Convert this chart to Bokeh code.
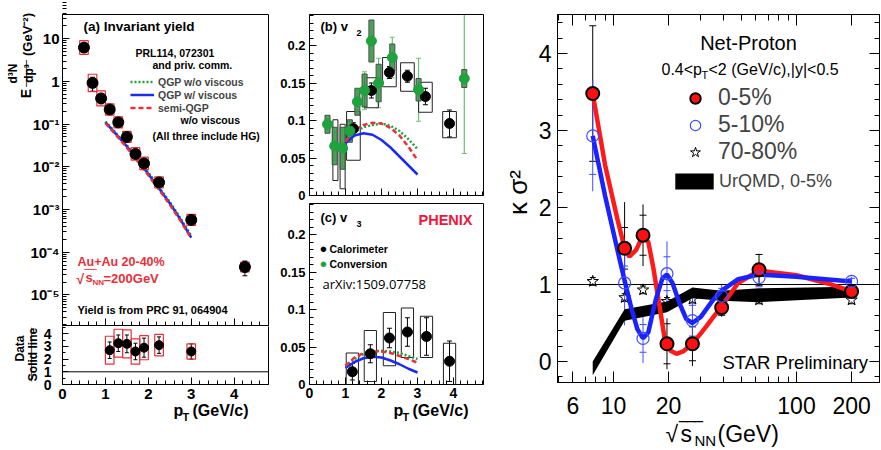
import math
from bokeh.plotting import figure
from bokeh.models import (ColumnDataSource, Range1d, FixedTicker, CustomJSTickFormatter,
                          Label, Whisker, TeeHead, Legend, LegendItem, LinearAxis, LogAxis)
from bokeh.layouts import row, column
from bokeh.embed import file_html
from bokeh.resources import INLINE

FONT = "Liberation Sans"
GREEN = "#1fa33f"
RED = "#e8303a"
BLUE = "#1a2cf0"

# ---------------- panel (a): invariant yield ----------------
a_pt = [0.5, 0.7, 0.9, 1.1, 1.3, 1.5, 1.7, 1.9, 2.25, 3.0, 4.25]
a_yield = [6.2, 0.92, 0.40, 0.22, 0.11, 0.050, 0.020, 0.012, 0.0043, 5.7e-4, 4.5e-5]
a_stat = [1.1, 0.33, 0.10, 0.045, 0.02, 0.008, 0.004, 0.003, 0.0008, 1.0e-4, 1.7e-5]
a_sys = [1.45, 1.6, 1.5, 1.35, 1.35, 1.35, 1.4, 1.4, 1.35, 1.35, 1.3]

r_pt = [1.1, 1.3, 1.5, 1.7, 1.9, 2.25, 3.0]
r_val = [2.7, 3.25, 3.2, 2.6, 2.9, 3.1, 2.6]
r_stat = [0.65, 0.65, 0.7, 0.65, 0.75, 0.65, 0.6]
r_sys = [1.1, 1.1, 1.1, 1.0, 0.95, 0.85, 0.6]

model_pt = [1.0, 1.25, 1.5, 1.75, 2.0, 2.25, 2.5, 2.75, 3.0]
yield_qgp_novisc = [0.115, 0.061, 0.032, 0.0155, 0.0073, 0.0033, 0.0015, 0.00062, 0.00024]
yield_qgp_visc = [0.110, 0.058, 0.030, 0.0145, 0.0068, 0.0031, 0.0014, 0.00058, 0.00022]
yield_semi = [0.105, 0.055, 0.028, 0.0135, 0.0063, 0.0029, 0.0013, 0.00054, 0.00021]

# ---------------- panel (b): v2 ----------------
cal_pt = [1.22, 1.72, 2.22, 2.72, 3.22, 3.89]
cal_v2 = [0.089, 0.140, 0.164, 0.159, 0.132, 0.096]
cal_v2_stat = [0.008, 0.010, 0.008, 0.008, 0.011, 0.018]
cal_v2_syslo = [0.047, 0.117, 0.145, 0.139, 0.111, 0.077]
cal_v2_syshi = [0.112, 0.157, 0.184, 0.177, 0.151, 0.112]

conv_pt = [0.5, 0.7, 0.92, 1.12, 1.33, 1.53, 1.72, 1.92, 2.3, 3.03, 4.3]
conv_v2 = [0.095, 0.066, 0.063, 0.086, 0.125, 0.140, 0.206, 0.150, 0.184, 0.141, 0.156]
conv_v2_stat = [0.008, 0.02, 0.025, 0.012, 0.015, 0.025, 0.027, 0.033, 0.027, 0.042, 0.10]
conv_v2_sys = [0.012, 0.025, 0.028, 0.015, 0.018, 0.022, 0.028, 0.025, 0.018, 0.015, 0.012]
conv_box_pt = [0.72, 0.92]
conv_box_lo = [0.020, 0.009]
conv_box_hi = [0.101, 0.095]

v2_qgp_novisc = [0.072, 0.085, 0.091, 0.094, 0.096, 0.093, 0.086, 0.075, 0.062]
v2_qgp_visc = [0.070, 0.080, 0.083, 0.081, 0.074, 0.064, 0.052, 0.040, 0.028]
v2_semi = [0.072, 0.087, 0.094, 0.097, 0.096, 0.090, 0.080, 0.065, 0.047]

# ---------------- panel (c): v3 ----------------
cal3_pt = [1.19, 1.69, 2.22, 2.72, 3.25, 3.89]
cal_v3 = [0.017, 0.041, 0.062, 0.070, 0.064, 0.031]
cal_v3_stat = [0.011, 0.012, 0.013, 0.019, 0.025, 0.027]
cal_v3_syslo = [0.0, 0.004, 0.025, 0.036, 0.036, 0.0]
cal_v3_syshi = [0.042, 0.072, 0.096, 0.102, 0.091, 0.055]

v3_qgp_novisc = [0.024, 0.034, 0.041, 0.044, 0.045, 0.044, 0.042, 0.038, 0.034]
v3_qgp_visc = [0.022, 0.030, 0.035, 0.037, 0.036, 0.032, 0.027, 0.021, 0.016]
v3_semi = [0.025, 0.036, 0.042, 0.044, 0.044, 0.042, 0.038, 0.034, 0.029]

# ---------------- right panel: net-proton kappa sigma^2 ----------------
energy = [7.7, 11.5, 14.5, 19.6, 27.0, 39.0, 62.4, 200.0]
ks_0_5 = [3.48, 1.47, 1.64, 0.23, 0.23, 0.70, 1.19, 0.91]
ks_0_5_stat = [0.88, 0.60, 0.40, 0.33, 0.29, 0.12, 0.21, 0.05]
ks_0_5_sys = [0.88, 0.27, 0.26, 0.26, 0.22, 0.10, 0.20, 0.04]
ks_5_10 = [2.93, 1.02, 0.30, 1.14, 0.53, 0.85, 1.09, 1.04]
ks_5_10_stat = [0.72, 0.55, 0.32, 0.42, 0.36, 0.15, 0.10, 0.06]
ks_5_10_sys = [0.50, 0.22, 0.18, 0.22, 0.20, 0.10, 0.12, 0.04]
ks_70_80 = [1.04, 0.83, 0.93, 0.78, 0.81, 0.80, 0.80, 0.80]

urqmd_e = [7.7, 11.5, 19.6, 27.0, 39.0, 62.4, 200.0]
urqmd_lo = [-0.18, 0.53, 0.64, 0.82, 0.79, 0.77, 0.83]
urqmd_hi = [0.0, 0.68, 0.78, 0.96, 0.92, 0.95, 0.97]

fit_0_5_e = [7.7, 9.0, 10.5, 11.5, 12.2, 13.3, 14.5, 15.5, 16.5, 17.9, 19.0, 20.5, 22.1, 24.0,
             27.0, 32.0, 39.0, 48.0, 62.4, 100.0, 150.0, 200.0]
fit_0_5_k = [3.48, 2.55, 1.85, 1.47, 1.36, 1.45, 1.64, 1.55, 1.22, 0.70, 0.31, 0.14, 0.10, 0.13,
             0.23, 0.45, 0.72, 1.02, 1.18, 1.12, 1.01, 0.91]
fit_5_10_e = [7.7, 9.0, 10.5, 11.5, 12.5, 13.5, 14.5, 15.5, 17.0, 18.5, 19.6, 21.0, 23.0, 25.0,
              27.0, 30.0, 35.0, 39.0, 48.0, 62.4, 100.0, 200.0]
fit_5_10_k = [2.93, 2.15, 1.45, 1.05, 0.70, 0.42, 0.30, 0.38, 0.80, 1.08, 1.13, 1.02, 0.75, 0.55,
              0.50, 0.58, 0.80, 0.92, 1.07, 1.13, 1.10, 1.04]

LOGFMT = """
const e = Math.round(Math.log10(tick));
if (e === 0) return "1";
if (e === 1) return "10";
const m = {"-":"\\u207b","0":"\\u2070","1":"\\u00b9","2":"\\u00b2","3":"\\u00b3","4":"\\u2074","5":"\\u2075","6":"\\u2076"};
return "10" + String(e).split("").map(c => m[c]).join("");
"""
VFMT = "return (tick == 0) ? '0' : String(parseFloat(tick.toFixed(2)));"


# ---------- pixel <-> data mappings of each panel (page pixels) ----------
def ma(px, py):
    return (px - 62) / 206 * 4.8, 10 ** (1.567 - (py - 14) / 311 * 7.284)


def mr(px, py):
    return (px - 62) / 206 * 4.8, (384 - py) / 12.7


def mb(px, py):
    return (px - 309) / 36, (195 - py) / 750


def mc(px, py):
    return (px - 309) / 36, (384 - py) / 750


def mk(px, py):
    return 10 ** (1 + (px - 613) / 183), (361 - py) / 77


def make_fig(m, x0, y0, x1, y1, x_range=None, **kw):
    xa, ya = m(x0, y1)
    xb, yb = m(x1, y0)
    p = figure(width=x1 - x0, height=y1 - y0,
               x_range=x_range if x_range is not None else Range1d(xa, xb),
               y_range=Range1d(ya, yb),
               output_backend="svg", toolbar_location=None, title=None,
               min_border_left=0, min_border_right=0, min_border_top=0, min_border_bottom=0, **kw)
    p.xgrid.visible = False
    p.ygrid.visible = False
    p.outline_line_color = None
    p.background_fill_color = "white"
    p.border_fill_color = "white"
    return p


def style_axis(ax, size, bold=True, standoff=3, major=7, minor=4):
    ax.major_tick_in = major
    ax.major_tick_out = 0
    ax.minor_tick_in = minor
    ax.minor_tick_out = 0
    ax.axis_line_color = "black"
    ax.major_tick_line_color = "black"
    ax.minor_tick_line_color = "black"
    ax.major_label_text_font = FONT
    ax.major_label_text_font_style = "bold" if bold else "normal"
    ax.major_label_text_font_size = size
    ax.major_label_standoff = standoff
    ax.major_label_text_color = "black"


def fix_axis(ax, loc, bounds, ticks, minor, size="0px", bold=True, standoff=3, major=7,
             minor_len=4, fmt=None, show=True):
    ax.fixed_location = loc
    ax.bounds = bounds
    ax.ticker = FixedTicker(ticks=ticks, minor_ticks=minor)
    style_axis(ax, size, bold, standoff, major, minor_len)
    if fmt is not None:
        ax.formatter = fmt
    if not show:
        ax.formatter = CustomJSTickFormatter(code="return ''")
        ax.major_label_text_font_size = "0px"
        ax.major_label_standoff = 0


def box(p, m, px0, px1, py0, py1):
    xa, ya = m(px0, py1)
    xb, yb = m(px1, py0)
    p.quad(left=[xa], right=[xb], bottom=[ya], top=[yb], fill_color=None,
           line_color="black", line_width=1)


def txt(p, m, px, py, text, size, color="black", bold=True, align="left", baseline="middle",
        angle=0.0, font=FONT):
    x, y = m(px, py)
    p.add_layout(Label(x=x, y=y, text=text, text_font=font, text_font_size=size,
                       text_font_style="bold" if bold else "normal", text_color=color,
                       text_align=align, text_baseline=baseline, angle=angle))


def tee(color, size=5):
    return TeeHead(size=size, line_color=color, line_width=1)


minor_pt = [i * 0.2 for i in range(25)]
ROT = math.pi / 2
SPLIT = 272   # page x where panel (a) column ends and panels (b)/(c) begin

# ====================== panel (a) top ======================
pa = make_fig(ma, 0, 0, SPLIT, 326, y_axis_type="log")
A_YBOT, A_YTOP = ma(0, 325)[1], ma(0, 14)[1]
box(pa, ma, 62, 268, 14, 325)
fix_axis(pa.yaxis[0], 0, (A_YBOT, A_YTOP), [1e-5, 1e-4, 1e-3, 1e-2, 1e-1, 1, 10],
         [k * 10.0 ** e for e in range(-6, 2) for k in range(2, 10)], size="15px", standoff=3,
         fmt=CustomJSTickFormatter(code=LOGFMT))
fix_axis(pa.xaxis[0], A_YBOT, (0, 4.8), [0, 1, 2, 3, 4], minor_pt, show=False)

src_a = ColumnDataSource(dict(
    pt=a_pt, y=a_yield,
    lo=[y - e for y, e in zip(a_yield, a_stat)], hi=[y + e for y, e in zip(a_yield, a_stat)],
    sl=[y / s for y, s in zip(a_yield, a_sys)], sh=[y * s for y, s in zip(a_yield, a_sys)],
    l=[p - 0.1 for p in a_pt], r=[p + 0.1 for p in a_pt]))

ga = pa.line(model_pt, yield_qgp_novisc, line_color=GREEN, line_width=2.5, line_dash="2 2")
ba = pa.line(model_pt, yield_qgp_visc, line_color=BLUE, line_width=2.5)
ra = pa.line(model_pt, yield_semi, line_color=RED, line_width=2.5, line_dash="5 3")
pa.quad(left="l", right="r", bottom="sl", top="sh", source=src_a, fill_color=None,
        line_color=RED, line_width=1.2)
pa.add_layout(Whisker(base="pt", lower="lo", upper="hi", source=src_a, line_color="black",
                      line_width=1, upper_head=tee("black"), lower_head=tee("black")))
pa.scatter("pt", "y", source=src_a, size=11, color="black")

leg_a = Legend(items=[LegendItem(label="QGP w/o viscous", renderers=[ga]),
                      LegendItem(label="QGP w/ viscous", renderers=[ba]),
                      LegendItem(label="semi-QGP", renderers=[ra])],
               location=(130, 212), glyph_width=24, glyph_height=13, label_height=13,
               label_standoff=4, spacing=0, padding=0, margin=0, border_line_color=None,
               background_fill_alpha=0, label_text_font=FONT, label_text_font_style="bold",
               label_text_font_size="10.5px")
pa.add_layout(leg_a)

txt(pa, ma, 83, 26, "(a) Invariant yield", "13.5px")
txt(pa, ma, 135, 52, "PRL114, 072301", "10.5px")
txt(pa, ma, 152, 64, "and priv. comm.", "10.5px")
txt(pa, ma, 180, 119, "w/o viscous", "10.5px")
txt(pa, ma, 152, 135, "(All three include HG)", "10.5px")
txt(pa, ma, 77, 261, "Au+Au 20-40%", "12.5px", color=RED)
txt(pa, ma, 76, 278, "\u221a", "14px", color=RED)
txt(pa, ma, 85, 277, "s", "13px", color=RED)
txt(pa, ma, 92, 282, "NN", "8px", color=RED)
txt(pa, ma, 103, 278, "=200GeV", "13px", color=RED)
txt(pa, ma, 84, 267, "\u203e\u203e\u203e", "12px", color=RED, bold=False, baseline="top")
txt(pa, ma, 77, 309, "Yield is from PRC 91, 064904", "11px")
# rotated y title: E d3N/dp3 (GeV-2)
txt(pa, ma, 27, 34, "(GeV\u207b\u00b2)", "13px", align="center", angle=ROT)
txt(pa, ma, 25, 93, "E", "14px", align="center", angle=ROT)
txt(pa, ma, 12, 73, "d\u00b3N", "12px", align="center", angle=ROT)
txt(pa, ma, 28, 73, "dp\u00b3", "12px", align="center", angle=ROT)
txt(pa, ma, 19, 73, "____", "12px", align="center", baseline="alphabetic", angle=ROT, bold=False)

# ====================== panel (a) ratio ======================
pr = make_fig(mr, 0, 326, SPLIT, 450, x_range=pa.x_range)
R_TOP = mr(0, 325)[1]
box(pr, mr, 62, 268, 325, 384)
fix_axis(pr.yaxis[0], 0, (0, R_TOP), [0, 1, 2, 3, 4], [i * 0.5 for i in range(10)],
         size="14px", standoff=11, major=6, minor_len=3)
fix_axis(pr.xaxis[0], 0, (0, 4.8), [0, 1, 2, 3, 4], minor_pt, size="15px", standoff=4)
pr.line([0, 4.8], [1, 1], line_color="black", line_width=1)
src_r = ColumnDataSource(dict(
    pt=r_pt, y=r_val,
    lo=[v - e for v, e in zip(r_val, r_stat)], hi=[v + e for v, e in zip(r_val, r_stat)],
    sl=[v - s for v, s in zip(r_val, r_sys)], sh=[v + s for v, s in zip(r_val, r_sys)],
    l=[p - 0.1 for p in r_pt], r=[p + 0.1 for p in r_pt]))
pr.quad(left="l", right="r", bottom="sl", top="sh", source=src_r, fill_color=None,
        line_color=RED, line_width=1.2)
pr.add_layout(Whisker(base="pt", lower="lo", upper="hi", source=src_r, line_color="black",
                      line_width=1, upper_head=tee("black", 4), lower_head=tee("black", 4)))
pr.scatter("pt", "y", source=src_r, size=9, color="black")
txt(pr, mr, 19, 348, "Data", "12px", align="center", angle=ROT)
txt(pr, mr, 32, 354, "Solid line", "12px", align="center", angle=ROT)
txt(pr, mr, 24, 354, "________", "12px", align="center", baseline="alphabetic",
    angle=ROT, bold=False)
txt(pr, mr, 173, 410, "p", "16px")
txt(pr, mr, 182, 416, "T", "11px")
txt(pr, mr, 192, 410, "(GeV/c)", "16px")

# ====================== panel (b) ======================
pb = make_fig(mb, SPLIT, 0, 490, 202)
B_RIGHT = mb(483, 0)[0]
B_TOP = mb(0, 14)[1]
box(pb, mb, 309, 483, 14, 195)
fix_axis(pb.yaxis[0], 0, (0, B_TOP), [0, 0.05, 0.1, 0.15, 0.2], [i * 0.01 for i in range(25)],
         size="13px", standoff=4, fmt=CustomJSTickFormatter(code=VFMT))
fix_axis(pb.xaxis[0], 0, (0, B_RIGHT), [0, 1, 2, 3, 4], minor_pt, show=False)

src_cb = ColumnDataSource(dict(
    pt=cal_pt, y=cal_v2,
    lo=[v - e for v, e in zip(cal_v2, cal_v2_stat)], hi=[v + e for v, e in zip(cal_v2, cal_v2_stat)],
    sl=cal_v2_syslo, sh=cal_v2_syshi,
    l=[p - 0.19 for p in cal_pt], r=[p + 0.19 for p in cal_pt]))
src_gb = ColumnDataSource(dict(
    pt=conv_pt, y=conv_v2,
    lo=[v - e for v, e in zip(conv_v2, conv_v2_stat)],
    hi=[min(v + e, B_TOP) for v, e in zip(conv_v2, conv_v2_stat)],
    sl=[v - s for v, s in zip(conv_v2, conv_v2_sys)], sh=[v + s for v, s in zip(conv_v2, conv_v2_sys)],
    l=[p - 0.07 for p in conv_pt], r=[p + 0.07 for p in conv_pt]))
src_xb = ColumnDataSource(dict(l=[p - 0.07 for p in conv_box_pt], r=[p + 0.07 for p in conv_box_pt],
                               b=conv_box_lo, t=conv_box_hi))
pb.quad(left="l", right="r", bottom="b", top="t", source=src_xb, fill_color=None,
        line_color="#222222", line_width=1)
pb.quad(left="l", right="r", bottom="sl", top="sh", source=src_cb, fill_color=None,
        line_color="#222222", line_width=1)
pb.quad(left="l", right="r", bottom="sl", top="sh", source=src_gb, fill_color="#3d9b4c",
        fill_alpha=0.9, line_color="#4a4a4a", line_width=1)
pb.add_layout(Whisker(base="pt", lower="lo", upper="hi", source=src_gb, line_color="#6cc070",
                      line_width=1.2, upper_head=tee("#6cc070"), lower_head=tee("#6cc070")))
pb.add_layout(Whisker(base="pt", lower="lo", upper="hi", source=src_cb, line_color="black",
                      line_width=1, upper_head=tee("black"), lower_head=tee("black")))
pb.line(model_pt, v2_qgp_novisc, line_color=GREEN, line_width=2.5, line_dash="2 2")
pb.line(model_pt, v2_qgp_visc, line_color=BLUE, line_width=2.5)
pb.line(model_pt, v2_semi, line_color=RED, line_width=2.5, line_dash="5 3")
pb.scatter("pt", "y", source=src_cb, size=10, color="black")
pb.scatter("pt", "y", source=src_gb, size=10, color=GREEN)
txt(pb, mb, 320, 26, "(b) v", "13px")
txt(pb, mb, 356, 32, "2", "9px")

# ====================== panel (c) ======================
pc = make_fig(mc, SPLIT, 202, 490, 450)
C_TOP = mc(0, 203)[1]
box(pc, mc, 309, 483, 203, 384)
fix_axis(pc.yaxis[0], 0, (0, C_TOP), [0, 0.05, 0.1, 0.15, 0.2], [i * 0.01 for i in range(25)],
         size="13px", standoff=4, fmt=CustomJSTickFormatter(code=VFMT))
fix_axis(pc.xaxis[0], 0, (0, B_RIGHT), [0, 1, 2, 3, 4], minor_pt, size="14px", standoff=3)
src_cc = ColumnDataSource(dict(
    pt=cal3_pt, y=cal_v3,
    lo=[v - e for v, e in zip(cal_v3, cal_v3_stat)], hi=[v + e for v, e in zip(cal_v3, cal_v3_stat)],
    sl=cal_v3_syslo, sh=cal_v3_syshi,
    l=[p - 0.17 for p in cal3_pt], r=[p + 0.17 for p in cal3_pt]))
pc.quad(left="l", right="r", bottom="sl", top="sh", source=src_cc, fill_color=None,
        line_color="#222222", line_width=1)
pc.add_layout(Whisker(base="pt", lower="lo", upper="hi", source=src_cc, line_color="black",
                      line_width=1, upper_head=tee("black"), lower_head=tee("black")))
pc.line(model_pt, v3_qgp_novisc, line_color=GREEN, line_width=2.5, line_dash="2 2")
pc.line(model_pt, v3_qgp_visc, line_color=BLUE, line_width=2.5)
pc.line(model_pt, v3_semi, line_color=RED, line_width=2.5, line_dash="5 3")
pc.scatter("pt", "y", source=src_cc, size=10, color="black")
txt(pc, mc, 320, 217, "(c) v", "13px")
txt(pc, mc, 356, 223, "3", "9px")
txt(pc, mc, 418, 219, "PHENIX", "14.5px", color="#f0143c")
txt(pc, mc, 323, 248, "\u25cf", "13px", align="center", bold=False)
txt(pc, mc, 329, 248, "Calorimeter", "10.5px")
txt(pc, mc, 323, 263, "\u25cf", "13px", color=GREEN, align="center", bold=False)
txt(pc, mc, 329, 263, "Conversion", "10.5px")
txt(pc, mc, 322, 283, "arXiv:1509.07758", "13px", bold=False, font="Open Sans")
txt(pc, mc, 393, 410, "p", "16px")
txt(pc, mc, 402, 416, "T", "11px")
txt(pc, mc, 412, 410, "(GeV/c)", "16px")

# ====================== right panel ======================
pk = make_fig(mk, 490, 0, 880, 450, x_axis_type="log")
K_L, K_R = mk(557, 0)[0], mk(879, 0)[0]
K_B, K_T = mk(0, 382)[1], mk(0, 14)[1]
box(pk, mk, 557, 879, 14, 382)
xt_major = [6, 10, 20, 100, 200]
xt_minor = [5, 7, 8, 9, 30, 40, 50, 60, 70, 80, 90]
yt_major = [0, 1, 2, 3, 4]
yt_minor = [round(-0.2 + 0.2 * i, 1) for i in range(24)]
fix_axis(pk.xaxis[0], K_B, (K_L, K_R), xt_major, xt_minor, size="23px", bold=False, standoff=14,
         major=11, minor_len=6, fmt=CustomJSTickFormatter(code="return String(tick);"))
fix_axis(pk.yaxis[0], K_L, (K_B, K_T), yt_major, yt_minor, size="23px", bold=False, standoff=6,
         major=10, minor_len=5)
top_ax = LogAxis()
fix_axis(top_ax, K_T, (K_L, K_R), xt_major, xt_minor, major=11, minor_len=6, show=False)
pk.add_layout(top_ax, "above")
right_ax = LinearAxis()
fix_axis(right_ax, K_R, (K_B, K_T), yt_major, yt_minor, major=10, minor_len=5, show=False)
pk.add_layout(right_ax, "right")

band = pk.varea(x=urqmd_e, y1=urqmd_lo, y2=urqmd_hi, fill_color="black")
pk.line([K_L, K_R], [1, 1], line_color="black", line_width=1)
src_k0 = ColumnDataSource(dict(
    e=energy, y=ks_0_5,
    lo=[v - s for v, s in zip(ks_0_5, ks_0_5_stat)], hi=[v + s for v, s in zip(ks_0_5, ks_0_5_stat)],
    sl=[v - s for v, s in zip(ks_0_5, ks_0_5_sys)], sh=[v + s for v, s in zip(ks_0_5, ks_0_5_sys)]))
src_k1 = ColumnDataSource(dict(
    e=energy, y=ks_5_10,
    lo=[v - s for v, s in zip(ks_5_10, ks_5_10_stat)], hi=[v + s for v, s in zip(ks_5_10, ks_5_10_stat)],
    sl=[v - s for v, s in zip(ks_5_10, ks_5_10_sys)], sh=[v + s for v, s in zip(ks_5_10, ks_5_10_sys)]))
src_k7 = ColumnDataSource(dict(e=energy, y=ks_70_80,
                               sl=[v - 0.05 for v in ks_70_80], sh=[v + 0.05 for v in ks_70_80]))
stars = pk.scatter("e", "y", source=src_k7, marker="star", size=12, fill_color=None,
                   line_color="black", line_width=1)
pk.add_layout(Whisker(base="e", lower="sl", upper="sh", source=src_k7, line_alpha=0,
                      upper_head=tee("black", 6), lower_head=tee("black", 6)))
for src, col in ((src_k0, "black"), (src_k1, "#3f4dff")):
    pk.add_layout(Whisker(base="e", lower="lo", upper="hi", source=src, line_color=col,
                          line_width=1, upper_head=None, lower_head=None))
    pk.add_layout(Whisker(base="e", lower="sl", upper="sh", source=src, line_alpha=0,
                          upper_head=tee(col, 7), lower_head=tee(col, 7)))
pk.line(fit_0_5_e, fit_0_5_k, line_color="#ff1a1a", line_width=4.5)
pk.line(fit_5_10_e, fit_5_10_k, line_color="#1a22ff", line_width=4.5)
red_pts = pk.scatter("e", "y", source=src_k0, size=13, fill_color="#ff1010", line_color="black",
                     line_width=2)
blue_pts = pk.scatter("e", "y", source=src_k1, size=12, fill_color=None, line_color="#3f4dff",
                      line_width=1.2)

leg_k = Legend(items=[LegendItem(label="0-5%", renderers=[red_pts]),
                      LegendItem(label="5-10%", renderers=[blue_pts]),
                      LegendItem(label="70-80%", renderers=[stars])],
               location=(190, 285), glyph_width=30, glyph_height=26, label_height=26,
               label_standoff=8, spacing=0, padding=0, margin=0, border_line_color=None,
               background_fill_alpha=0, label_text_font=FONT, label_text_font_size="23px")
pk.add_layout(leg_k)
leg_u = Legend(items=[LegendItem(label="UrQMD, 0-5%", renderers=[band])],
               location=(180, 257), glyph_width=48, glyph_height=20, label_height=24,
               label_standoff=1, spacing=0, padding=0, margin=0, border_line_color=None,
               background_fill_alpha=0, label_text_font=FONT, label_text_font_size="18px")
pk.add_layout(leg_u)

txt(pk, mk, 748, 42, "Net-Proton", "20px", bold=False, align="center")
txt(pk, mk, 661, 69, "0.4<p", "16px", bold=False)
txt(pk, mk, 701, 74, "T", "11px", bold=False)
txt(pk, mk, 708, 69, "<2 (GeV/c),|y|<0.5", "16px", bold=False)
txt(pk, mk, 722, 362, "STAR Preliminary", "18.5px", bold=False)
txt(pk, mk, 517, 192, "\u03ba \u03c3\u00b2", "26px", bold=False, align="center", angle=ROT)
txt(pk, mk, 665, 433, "\u221a", "23px", bold=False)
txt(pk, mk, 680, 433, "s", "23px", bold=False)
txt(pk, mk, 694, 440, "NN", "15px", bold=False)
txt(pk, mk, 717, 433, "(GeV)", "23px", bold=False)
txt(pk, mk, 679, 418, "\u203e\u203e\u203e", "23px", bold=False, baseline="top")

layout = row(column(pa, pr), column(pb, pc), pk)
open("out.html", "w").write(file_html(layout, INLINE))
